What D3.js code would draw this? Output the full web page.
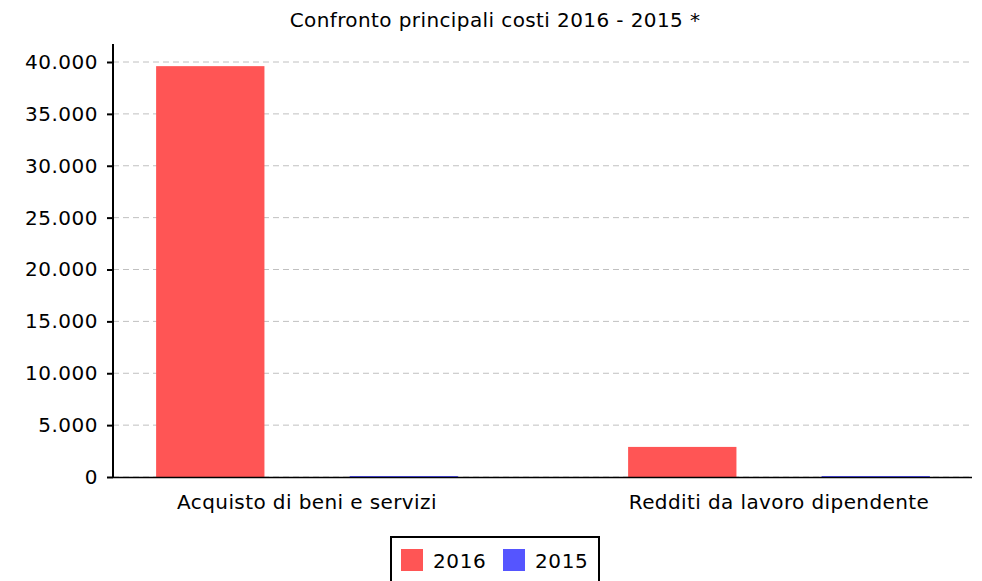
<!DOCTYPE html>
<html>
<head>
<meta charset="utf-8">
<script src="https://cdn.jsdelivr.net/npm/d3@7"></script>
<style>
  body { margin: 0; background: #fff; }
  svg { display: block; font-family: "DejaVu Sans", sans-serif; }
</style>
</head>
<body>
<svg id="chart"></svg>
<script>
// Data
const categories = ["Acquisto di beni e servizi", "Redditi da lavoro dipendente"];
const seriesNames = ["2016", "2015"];
const values2016 = [39600, 2900];
const values2015 = [0, 0];
const yTicks = [0, 5000, 10000, 15000, 20000, 25000, 30000, 35000, 40000];

const W = 982, H = 581;
const plot = { left: 113, right: 972, top: 44, bottom: 477 };
const colors = { "2016": "#ff5555", "2015": "#5555ff" };

const svg = d3.select("#chart").attr("width", W).attr("height", H);

// Scales
const y = d3.scaleLinear().domain([0, 40000]).range([plot.bottom, 62]);
const x0 = d3.scaleBand().domain(categories).range([71, 1015]);
const x1 = d3.scaleBand().domain(seriesNames).range([0, x0.bandwidth()])
    .paddingInner(0.44).paddingOuter(0.44);

const fmt = d3.formatLocale({ decimal: ",", thousands: ".", grouping: [3], currency: ["", "€"] }).format(",d");

// Title
svg.append("text")
    .attr("x", 495).attr("y", 27)
    .attr("text-anchor", "middle")
    .style("font-size", "20px")
    .style("letter-spacing", "0.4px")
    .text("Confronto principali costi 2016 - 2015 *");

// Grid lines
svg.append("g").selectAll("line")
    .data(yTicks)
    .enter().append("line")
    .attr("x1", plot.left).attr("x2", plot.right)
    .attr("y1", d => y(d)).attr("y2", d => y(d))
    .attr("stroke", "#c0c0c0")
    .attr("stroke-dasharray", "6,4");

// Bars
const rows = categories.map((c, i) => ({ cat: c, vals: [
    { key: "2016", v: values2016[i] },
    { key: "2015", v: values2015[i] }
]}));

const groups = svg.append("g").selectAll("g")
    .data(rows)
    .enter().append("g")
    .attr("transform", d => `translate(${x0(d.cat)},0)`);

groups.selectAll("rect")
    .data(d => d.vals)
    .enter().append("rect")
    .attr("x", d => x1(d.key))
    .attr("width", x1.bandwidth())
    .attr("y", d => y(d.v) - (d.v === 0 ? 1 : 0))
    .attr("height", d => Math.max(1, y(0) - y(d.v)))
    .attr("fill", d => colors[d.key]);

// Y axis
const yAxis = svg.append("g")
    .attr("transform", `translate(${plot.left},0)`)
    .call(d3.axisLeft(y).tickValues(yTicks).tickFormat(fmt).tickSize(6).tickPadding(9));
yAxis.select(".domain").remove();
yAxis.selectAll(".tick line").attr("stroke", "#000").attr("stroke-width", 2);
yAxis.selectAll(".tick text")
    .style("font-size", "20px")
    .style("letter-spacing", "0.5px")
    .style("font-family", "DejaVu Sans, sans-serif")
    .attr("fill", "#000");

svg.append("line")
    .attr("x1", plot.left).attr("x2", plot.left)
    .attr("y1", plot.top).attr("y2", plot.bottom + 1)
    .attr("stroke", "#000").attr("stroke-width", 2);

// X axis baseline
svg.append("line")
    .attr("x1", plot.left).attr("x2", plot.right)
    .attr("y1", y(0) + 0.5).attr("y2", y(0) + 0.5)
    .attr("stroke", "#000").attr("stroke-width", 1.5);

// Category labels
svg.append("g").selectAll("text")
    .data(categories)
    .enter().append("text")
    .attr("x", d => x0(d) + x0.bandwidth() / 2)
    .attr("y", 509)
    .attr("text-anchor", "middle")
    .style("font-size", "20px")
    .style("letter-spacing", "0.4px")
    .text(d => d);

// Legend
const legend = svg.append("g");
legend.append("rect")
    .attr("x", 391).attr("y", 537)
    .attr("width", 208).attr("height", 50)
    .attr("fill", "#fff").attr("stroke", "#000").attr("stroke-width", 2);

const items = legend.selectAll("g.item")
    .data(seriesNames)
    .enter().append("g")
    .attr("class", "item")
    .attr("transform", (d, i) => `translate(${401 + i * 102},549)`);
items.append("rect")
    .attr("width", 22).attr("height", 22)
    .attr("fill", d => colors[d]);
items.append("text")
    .attr("x", 32).attr("y", 19)
    .style("font-size", "20px")
    .style("letter-spacing", "0.6px")
    .text(d => d);
</script>
</body>
</html>
